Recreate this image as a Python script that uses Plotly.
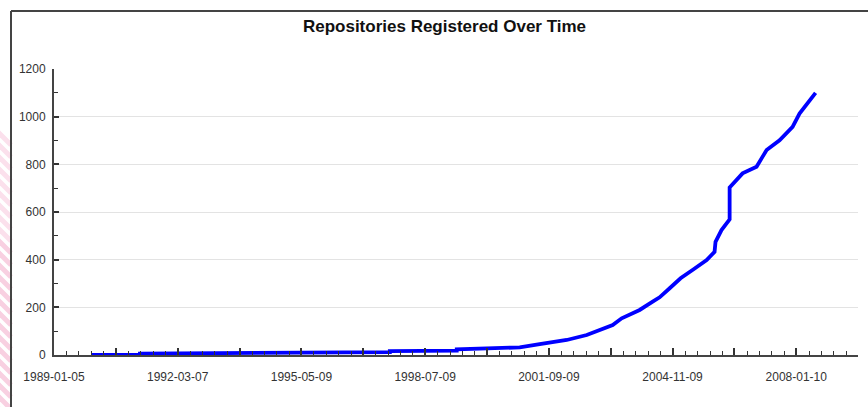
import plotly.graph_objects as go
import pandas as pd

# ---- data ----
dates = [
    "1989-12-26", "1991-03-20", "1991-03-20", "1993-07-01", "1996-01-02", "1996-01-02",
    "1997-08-13", "1997-08-13", "1999-05-01", "1999-05-01", "2000-06-06", "2000-12-10",
    "2001-06-15", "2002-02-23", "2002-08-29", "2003-04-29", "2003-07-22", "2004-01-06",
    "2004-05-07", "2004-07-11", "2004-10-13", "2005-01-23", "2005-05-25", "2005-09-24",
    "2005-12-07", "2005-12-16", "2006-02-10", "2006-04-27", "2006-04-27", "2006-08-26",
    "2007-01-04", "2007-04-08", "2007-08-07", "2007-12-07", "2008-02-10", "2008-07-09",
]
repos = [
    0, 0, 6, 7, 8, 11,
    12, 16, 18, 24, 28, 32,
    46, 63, 84, 126, 154, 189,
    224, 242, 280, 322, 360, 398,
    433, 475, 524, 569, 703, 762,
    790, 860, 901, 957, 1013, 1100,
]

x_label_dates = ["1989-01-05", "1992-03-07", "1995-05-09", "1998-07-09",
                 "2001-09-09", "2004-11-09", "2008-01-10"]
x_range = ["1989-01-05", "2009-08-10"]
y_range = [0, 1200]
title_text = "Repositories Registered Over Time"

# major ticks: labelled dates plus unlabelled midpoints
lab = pd.to_datetime(x_label_dates)
tickvals, ticktext = [], []
for i, d in enumerate(lab):
    tickvals.append(d)
    ticktext.append(x_label_dates[i])
    mid = d + (lab[1] - lab[0]) / 2
    tickvals.append(mid)
    ticktext.append("")

FONT = "Liberation Sans, Arial, sans-serif"
W, H = 868, 407
L, R, T, B = 54, 10, 69, 52
pw, ph = W - L - R, H - T - B

def px_x(p):
    return (p - L) / pw

def px_y(p):
    return (H - B - p) / ph

fig = go.Figure()
fig.add_trace(go.Scatter(
    x=pd.to_datetime(dates), y=repos, mode="lines",
    line=dict(color="#0000ff", width=3.8),
    cliponaxis=False, showlegend=False, hoverinfo="x+y",
))

shapes = []
# pink diagonal stripes at the far left
for k in range(-9, 16):
    y0 = 240 + k * 12
    shapes.append(dict(type="line", xref="paper", yref="paper",
                       x0=px_x(-2), y0=px_y(y0), x1=px_x(11), y1=px_y(y0 + 13),
                       line=dict(color="#fbe0ec" if k < 0 else "#f8d0e1", width=5),
                       layer="below"))
# outer frame (top and left)
shapes.append(dict(type="line", xref="paper", yref="paper",
                   x0=px_x(11), y0=px_y(11), x1=px_x(W + 2), y1=px_y(11),
                   line=dict(color="#444444", width=2)))
shapes.append(dict(type="line", xref="paper", yref="paper",
                   x0=px_x(11), y0=px_y(11), x1=px_x(11), y1=px_y(H + 2),
                   line=dict(color="#444444", width=2)))

fig.update_layout(
    width=W, height=H,
    margin=dict(l=L, r=R, t=T, b=B),
    paper_bgcolor="white", plot_bgcolor="white",
    title=dict(text=title_text, x=444.5 / W, xanchor="center",
               y=1 - 26 / H, yanchor="middle",
               font=dict(family=FONT, size=17, color="#111111", weight="bold")),
    font=dict(family=FONT, size=12, color="#333333"),
    shapes=shapes,
)
fig.update_xaxes(
    type="date", range=x_range,
    tickmode="array", tickvals=tickvals, ticktext=ticktext,
    ticks="inside", ticklen=7, tickwidth=1.5, tickcolor="#333333",
    minor=dict(dtick=115.8 * 86400000, tick0="1989-01-05", ticks="inside",
               ticklen=4, tickwidth=1.2, tickcolor="#333333", showgrid=False),
    showline=True, linecolor="#444444", linewidth=2,
    showgrid=False, zeroline=False,
    tickfont=dict(family=FONT, size=12, color="#333333"),
    ticklabelstandoff=10,
)
fig.update_yaxes(
    range=y_range, dtick=200, tick0=0,
    ticks="inside", ticklen=5, tickwidth=1.5, tickcolor="#333333",
    minor=dict(dtick=100, ticks="inside", ticklen=4, tickwidth=1.2,
               tickcolor="#333333", showgrid=False),
    showline=True, linecolor="#444444", linewidth=2,
    showgrid=True, gridcolor="#e3e3e3", gridwidth=1,
    zeroline=False,
    tickfont=dict(family=FONT, size=12, color="#333333"),
    ticklabelstandoff=4,
)

fig.write_html(
    "out.html",
    config={"displayModeBar": False},
    post_script="document.body.style.margin='0';document.body.style.overflow='hidden';",
)
